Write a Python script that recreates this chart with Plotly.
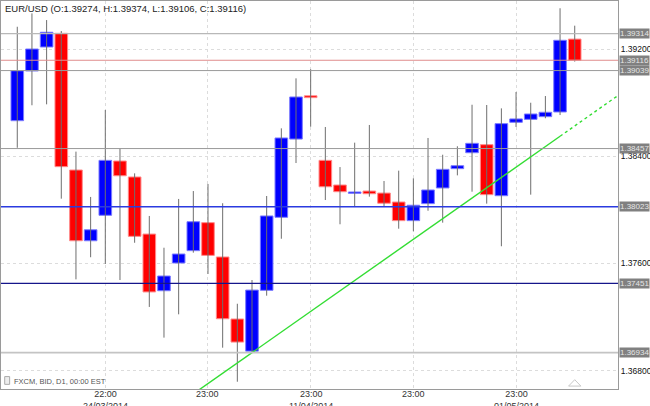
import plotly.graph_objects as go

# ---------------- data ----------------
dates = ["14/03/2014", "17/03/2014", "18/03/2014", "19/03/2014", "20/03/2014", "21/03/2014",
         "24/03/2014", "25/03/2014", "26/03/2014", "27/03/2014", "28/03/2014",
         "31/03/2014", "01/04/2014", "02/04/2014", "03/04/2014", "04/04/2014",
         "07/04/2014", "08/04/2014", "09/04/2014", "10/04/2014", "11/04/2014",
         "14/04/2014", "15/04/2014", "16/04/2014", "17/04/2014", "18/04/2014",
         "21/04/2014", "22/04/2014", "23/04/2014", "24/04/2014", "25/04/2014",
         "28/04/2014", "29/04/2014", "30/04/2014", "01/05/2014", "02/05/2014",
         "05/05/2014", "06/05/2014", "07/05/2014"]

opens = [1.38665, 1.39036, 1.39215, 1.39317, 1.38297, 1.37769, 1.37959, 1.38364, 1.38245, 1.37819,
         1.37396, 1.37603, 1.37695, 1.37904, 1.37648, 1.37185, 1.36945, 1.37399, 1.37944, 1.38528,
         1.38851, 1.38369, 1.38185, 1.38123, 1.38140, 1.38125, 1.38058, 1.37919, 1.38046, 1.38163,
         1.38307, 1.38426, 1.38486, 1.38105, 1.38653, 1.38675, 1.38695, 1.38730, 1.39274]
highs = [1.39366, 1.39466, 1.39416, 1.39334, 1.38434, 1.38096, 1.38745, 1.38459, 1.38272, 1.37954,
         1.37717, 1.38081, 1.38140, 1.38193, 1.38049, 1.37299, 1.37476, 1.38103, 1.38608, 1.38981,
         1.39049, 1.38618, 1.38319, 1.38501, 1.38633, 1.38215, 1.38292, 1.38235, 1.38536, 1.38411,
         1.38474, 1.38784, 1.38782, 1.38757, 1.38879, 1.38799, 1.38849, 1.39504, 1.39374]
lows = [1.38463, 1.38780, 1.38787, 1.38083, 1.37481, 1.37646, 1.37596, 1.37476, 1.37754, 1.37275,
        1.37046, 1.37220, 1.37680, 1.37521, 1.36971, 1.36717, 1.36934, 1.37359, 1.37784, 1.38349,
        1.38620, 1.38073, 1.37892, 1.38023, 1.38098, 1.38021, 1.37859, 1.37840, 1.37993, 1.37904,
        1.38257, 1.38135, 1.38046, 1.37728, 1.38618, 1.38113, 1.38683, 1.38707, 1.39106]
closes = [1.39038, 1.39200, 1.39325, 1.38322, 1.37769, 1.37851, 1.38369, 1.38254, 1.37802, 1.37387,
          1.37506, 1.37670, 1.37911, 1.37660, 1.37187, 1.37013, 1.37401, 1.37954, 1.38536, 1.38842,
          1.38837, 1.38172, 1.38135, 1.38133, 1.38120, 1.38049, 1.37919, 1.38034, 1.38148, 1.38302,
          1.38329, 1.38496, 1.38113, 1.38643, 1.38678, 1.38715, 1.38728, 1.39265, 1.39116]

# x-axis labels (index into dates)
tick_dates = ["24/03/2014", "02/04/2014", "11/04/2014", "22/04/2014", "01/05/2014"]
tick_labels = ["22:00<br>24/03/2014", "23:00", "23:00<br>11/04/2014", "23:00", "23:00<br>01/05/2014"]

# y grid / labels
price_ticks = [1.368, 1.376, 1.384, 1.392]

# horizontal price levels
levels = [1.39314, 1.39116, 1.39039, 1.38457, 1.38023, 1.37451, 1.36934]

# trend line anchor points (date, price)
trend_dates = ["07/04/2014", "06/05/2014"]
trend_prices = [1.36934, 1.38549]

title_text = "EUR/USD (O:1.39274, H:1.39374, L:1.39106, C:1.39116)"
source_text = "FXCM, BID, D1, 00:00 EST"

# ---------------- styles ----------------
NARROW = "Liberation Sans Narrow, Arial Narrow, Liberation Sans, sans-serif"
level_style = {
    1.39314: ("#b8b8b8", 1.2),
    1.39116: ("#e08c8c", 1.0),
    1.39039: ("#9a9a9a", 1.0),
    1.38457: ("#9a9a9a", 1.0),
    1.38023: ("#2b3be0", 1.6),
    1.37451: ("#15158a", 1.3),
    1.36934: ("#c4c4c4", 1.6),
}
X_MIN, X_MAX = -1.11, 40.95
Y_MIN, Y_MAX = 1.366627, 1.395582

# ---------------- build ----------------
xs = list(range(len(dates)))
idx = {d: i for i, d in enumerate(dates)}

wick_x, wick_y = [], []
for i, h, l in zip(xs, highs, lows):
    wick_x += [i, i, None]
    wick_y += [l, h, None]

bases = [min(o, c) for o, c in zip(opens, closes)]
heights = [max(abs(c - o), 0.00008) for o, c in zip(opens, closes)]
up = [c >= o for o, c in zip(opens, closes)]
fill = ["#0000ff" if u else "#ff0000" for u in up]
edge = ["#7a7aff" if u else "#ff8a8a" for u in up]

fig = go.Figure()
fig.add_trace(go.Scatter(x=wick_x, y=wick_y, mode="lines",
                         line=dict(color="#6e6e6e", width=1), hoverinfo="skip"))
fig.add_trace(go.Bar(x=xs, y=heights, base=bases, width=0.86,
                     marker=dict(color=fill, line=dict(color=edge, width=1)),
                     hoverinfo="skip"))

# level lines
for lv in levels:
    col, w = level_style[lv]
    fig.add_shape(type="line", xref="paper", x0=0, x1=1, yref="y", y0=lv, y1=lv,
                  line=dict(color=col, width=w), layer="above")
    fig.add_annotation(xref="paper", x=1, xanchor="left", xshift=1, yref="y", y=lv,
                       text="%.5f" % lv, showarrow=False, bgcolor="#808080",
                       font=dict(family="Liberation Sans", size=8, color="#e6e6e6"),
                       borderpad=0)

# trend line (solid between anchors and back to the bottom, dotted projection beyond)
tx0, tx1 = idx[trend_dates[0]], idx[trend_dates[1]]
slope = (trend_prices[1] - trend_prices[0]) / (tx1 - tx0)
start_x = X_MIN
fig.add_trace(go.Scatter(x=[start_x, tx1],
                         y=[trend_prices[0] + (start_x - tx0) * slope, trend_prices[1]],
                         mode="lines", line=dict(color="#33dd33", width=1.4), hoverinfo="skip"))
fig.add_trace(go.Scatter(x=[tx1, X_MAX],
                         y=[trend_prices[1], trend_prices[1] + (X_MAX - tx1) * slope],
                         mode="lines", line=dict(color="#33dd33", width=1.4, dash="dot"),
                         hoverinfo="skip"))

# little triangle marker near the last bar
last = xs[-1]
fig.add_shape(type="path", xref="x", yref="paper",
              path=f"M {last-0.42},0.0075 L {last},0.024 L {last+0.42},0.0075 Z",
              line=dict(color="#c8c8c8", width=1), fillcolor="rgba(0,0,0,0)")

# icon next to source text
fig.add_shape(type="rect", xref="paper", yref="paper", x0=0.006, x1=0.014, y0=0.012, y1=0.032,
              line=dict(color="#aaaaaa", width=1), fillcolor="#eeeeee")

fig.add_annotation(xref="paper", yref="paper", x=0, y=1, xanchor="left", yanchor="top",
                   xshift=2, yshift=0, text=title_text, showarrow=False,
                   font=dict(family=NARROW, size=9.5, color="#222222"))
fig.add_annotation(xref="paper", yref="paper", x=0, y=0, xanchor="left", yanchor="bottom",
                   xshift=11, yshift=1, text=source_text, showarrow=False,
                   font=dict(family=NARROW, size=7.5, color="#555555"))

# x-axis labels (two-line, partly cut by the page edge as in the source)
for d, lab in zip(tick_dates, tick_labels):
    fig.add_annotation(xref="x", yref="paper", x=idx[d], y=0, xanchor="center", yanchor="top",
                       yshift=2, text=lab, showarrow=False, align="center",
                       font=dict(family=NARROW, size=9, color="#333333"))

fig.update_layout(
    width=650, height=406,
    margin=dict(l=1, r=32, t=1, b=17),
    paper_bgcolor="white", plot_bgcolor="white",
    showlegend=False, barmode="overlay", hovermode=False,
    font=dict(family="Liberation Sans", size=9, color="#222222"),
)
fig.update_xaxes(range=[X_MIN, X_MAX], tickmode="array", automargin=False,
                 tickvals=[idx[d] for d in tick_dates], showticklabels=False,
                 showgrid=True, gridcolor="#dcdcdc", griddash="dot", gridwidth=1,
                 showline=True, linecolor="#9a9a9a", linewidth=1, mirror=True,
                 ticks="", zeroline=False)
fig.update_yaxes(range=[Y_MIN, Y_MAX], side="right", tickmode="array", automargin=False,
                 tickvals=price_ticks, ticktext=["%.5f" % t for t in price_ticks],
                 showgrid=True, gridcolor="#dcdcdc", griddash="dot", gridwidth=1,
                 showline=True, linecolor="#9a9a9a", linewidth=1, mirror=True,
                 ticks="", zeroline=False, tickfont=dict(size=8.5, color="#111111"))

fig.write_html("out.html", config={"displayModeBar": False},
               post_script="document.body.style.margin='0';document.body.style.overflow='hidden';")
